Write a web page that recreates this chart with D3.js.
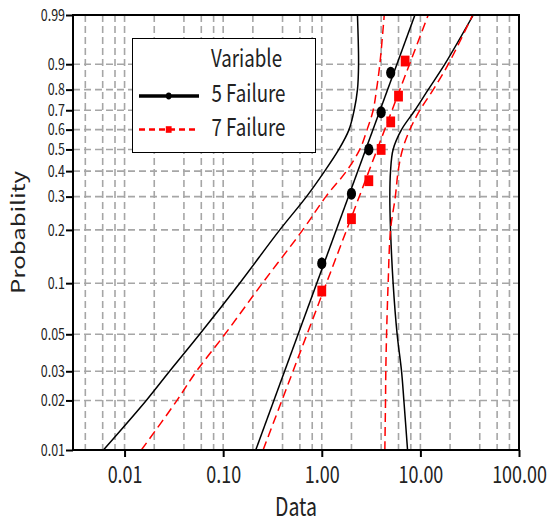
<!DOCTYPE html>
<html>
<head>
<meta charset="utf-8">
<script src="https://cdn.jsdelivr.net/npm/d3@7"></script>
<style>
  html, body { margin: 0; padding: 0; background: #fff; }
  svg { display: block; }
  text { font-family: "Noto Sans CJK KR", "Noto Sans", sans-serif; fill: #222; }
</style>
</head>
<body>
<svg id="chart" width="550" height="523"></svg>
<script>
// ---------------- data ----------------
const probTicks  = [0.01, 0.02, 0.03, 0.05, 0.1, 0.2, 0.3, 0.4, 0.5, 0.6, 0.7, 0.8, 0.9, 0.99];
const probLabels = ["0.01","0.02","0.03","0.05","0.1","0.2","0.3","0.4","0.5","0.6","0.7","0.8","0.9","0.99"];
const xTicks      = [0.01, 0.1, 1, 10, 100];
const xTickLabels = ["0.01", "0.10", "1.00", "10.00", "100.00"];
const xGrid = [0.004, 0.006, 0.008, 0.01, 0.02, 0.04, 0.06, 0.08, 0.1, 0.2, 0.4, 0.6, 0.8, 1,
               2, 4, 6, 8, 10, 20, 40, 60, 80];
const seriesNames = ["5 Failure", "7 Failure"];

// observed points (data, median-rank probability)
const fail5Data = [1, 2, 3, 4, 5];
const fail5Prob = [0.13, 0.31, 0.50, 0.69, 0.87];
const fail7Data = [1, 2, 3, 4, 5, 6, 7];
const fail7Prob = [0.09, 0.23, 0.36, 0.50, 0.64, 0.77, 0.91];

// fitted lines (end points)
const fitProb  = [0.01, 0.99];
const fit5Data = [0.214, 8.8];
const fit7Data = [0.254, 12.0];

// confidence bounds, read at the probability ticks
const ciProb   = [0.01, 0.02, 0.03, 0.05, 0.1, 0.2, 0.3, 0.4, 0.5, 0.6, 0.7, 0.8, 0.9, 0.99];
const lower5 = [0.0061, 0.0166, 0.0286, 0.0577, 0.147, 0.375, 0.70, 1.07, 1.49, 1.89, 2.13, 2.30, 2.36, 2.30];
const upper5 = [7.41, 6.80, 6.44, 5.81, 5.29, 4.98, 4.90, 4.98, 5.29, 6.44, 8.80, 12.0, 17.7, 34.4];
const lower7 = [0.0148, 0.0340, 0.0535, 0.104, 0.250, 0.641, 1.10, 1.78, 2.43, 2.88, 3.32, 3.59, 3.88, 4.30];
const upper7 = [4.36, 4.43, 4.46, 4.54, 4.71, 4.98, 5.57, 5.95, 6.59, 7.82, 9.88, 13.5, 19.2, 33.9];

// ---------------- layout ----------------
const L = 73, R = 519, T = 15, B = 450;
const sx = 0.78;   // horizontal squeeze of glyphs / markers in the reference
const svg = d3.select("#chart");

const x = d3.scaleLog().domain([0.003, 100]).range([L, R]);
const wb = p => Math.log(-Math.log(1 - p));          // Weibull probability transform
const yLin = d3.scaleLinear().domain([wb(0.01), wb(0.99)]).range([B, T]);
const y = p => yLin(wb(p));

// clip
svg.append("clipPath").attr("id", "plotclip")
  .append("rect").attr("x", L).attr("y", T).attr("width", R - L).attr("height", B - T);

// grid
const grid = svg.append("g").attr("stroke", "#a6a6a6").attr("stroke-width", 1.6)
  .attr("stroke-dasharray", "7,4");
grid.selectAll("line.v").data(xGrid).join("line").attr("class", "v")
  .attr("x1", d => x(d)).attr("x2", d => x(d)).attr("y1", T).attr("y2", B);
grid.selectAll("line.h").data(probTicks.filter(p => p > 0.01 && p < 0.99)).join("line").attr("class", "h")
  .attr("x1", L).attr("x2", R).attr("y1", d => y(d)).attr("y2", d => y(d));

// lines
const plot = svg.append("g").attr("clip-path", "url(#plotclip)");
const line = d3.line().x(d => x(d[0])).y(d => y(d[1])).curve(d3.curveCatmullRom.alpha(0.5));
const zip = (xs, ps) => xs.map((v, i) => [v, ps[i]]);

const black = "#000", red = "#ff0000";
[lower5, upper5].forEach(arr => {
  plot.append("path").datum(zip(arr, ciProb)).attr("d", line)
    .attr("fill", "none").attr("stroke", black).attr("stroke-width", 1.5);
});
[lower7, upper7].forEach(arr => {
  plot.append("path").datum(zip(arr, ciProb)).attr("d", line)
    .attr("fill", "none").attr("stroke", red).attr("stroke-width", 1.5).attr("stroke-dasharray", "9,5");
});
plot.append("path").datum(zip(fit5Data, fitProb)).attr("d", line)
  .attr("fill", "none").attr("stroke", black).attr("stroke-width", 1.5);
plot.append("path").datum(zip(fit7Data, fitProb)).attr("d", line)
  .attr("fill", "none").attr("stroke", red).attr("stroke-width", 1.5).attr("stroke-dasharray", "9,5");

// markers
plot.selectAll("ellipse.p5").data(zip(fail5Data, fail5Prob)).join("ellipse").attr("class", "p5")
  .attr("cx", d => x(d[0])).attr("cy", d => y(d[1])).attr("rx", 4.6).attr("ry", 6).attr("fill", black);
plot.selectAll("rect.p7").data(zip(fail7Data, fail7Prob)).join("rect").attr("class", "p7")
  .attr("x", d => x(d[0]) - 4.4).attr("y", d => y(d[1]) - 5.4).attr("width", 8.8).attr("height", 10.8)
  .attr("fill", red);

// axes
const yAxis = d3.axisLeft(yLin).tickValues(probTicks.map(wb))
  .tickFormat((d, i) => probLabels[i]).tickSize(7).tickSizeOuter(0);
const gy = svg.append("g").attr("transform", `translate(${L},0)`).call(yAxis);
gy.selectAll(".tick line").attr("stroke", "#000").attr("stroke-width", 2);
gy.selectAll(".tick text").attr("x", -8 / sx).attr("transform", `scale(${sx},1)`)
  .attr("font-size", 16).attr("font-family", '"Noto Sans CJK KR", sans-serif').attr("fill", "#222");
gy.select(".domain").remove();

const xAxis = d3.axisBottom(x).tickValues(xTicks)
  .tickFormat((d, i) => xTickLabels[i]).tickSize(7).tickSizeOuter(0);
const gx = svg.append("g").attr("transform", `translate(0,${B})`).call(xAxis);
gx.selectAll(".tick line").attr("stroke", "#000").attr("stroke-width", 2);
gx.selectAll(".tick text").attr("y", 33).attr("dy", 0).attr("transform", `scale(${sx},1)`)
  .attr("font-size", 23).attr("font-family", '"Noto Sans CJK KR", sans-serif').attr("fill", "#222");
gx.select(".domain").remove();

// frame
svg.append("rect").attr("x", L).attr("y", T).attr("width", R - L).attr("height", B - T)
  .attr("fill", "none").attr("stroke", "#000").attr("stroke-width", 2);

// titles
svg.append("text").attr("transform", `translate(${(L + R) / 2},516) scale(${sx},1)`)
  .attr("text-anchor", "middle").attr("font-size", 25).text("Data");
svg.append("text").attr("transform", `translate(25,${(T + B) / 2}) scale(${sx},1) rotate(-90)`)
  .attr("text-anchor", "middle").attr("font-size", 24).text("Probability");

// legend
const lg = svg.append("g");
lg.append("rect").attr("x", 132.5).attr("y", 38.5).attr("width", 183).attr("height", 114)
  .attr("fill", "#fff").attr("stroke", "#000").attr("stroke-width", 1);
lg.append("text").attr("transform", `translate(211,67) scale(${sx},1)`).attr("font-size", 24).text("Variable");
const legRows = [
  { name: seriesNames[0], color: black, dash: null, yy: 96, marker: "circle", w: 3.5 },
  { name: seriesNames[1], color: red, dash: "6,4", yy: 129.5, marker: "square", w: 2.5 }
];
legRows.forEach(r => {
  lg.append("line").attr("x1", 139).attr("x2", 199).attr("y1", r.yy).attr("y2", r.yy)
    .attr("stroke", r.color).attr("stroke-width", r.w).attr("stroke-dasharray", r.dash);
  if (r.marker === "circle") {
    lg.append("ellipse").attr("cx", 168.7).attr("cy", r.yy).attr("rx", 2.8).attr("ry", 3.4).attr("fill", r.color);
  } else {
    lg.append("rect").attr("x", 165.8).attr("y", r.yy - 3.3).attr("width", 5.8).attr("height", 6.6).attr("fill", r.color);
  }
  lg.append("text").attr("transform", `translate(211.5,${r.yy + 6}) scale(${sx},1)`)
    .attr("font-size", 24).text(r.name);
});
</script>
</body>
</html>
